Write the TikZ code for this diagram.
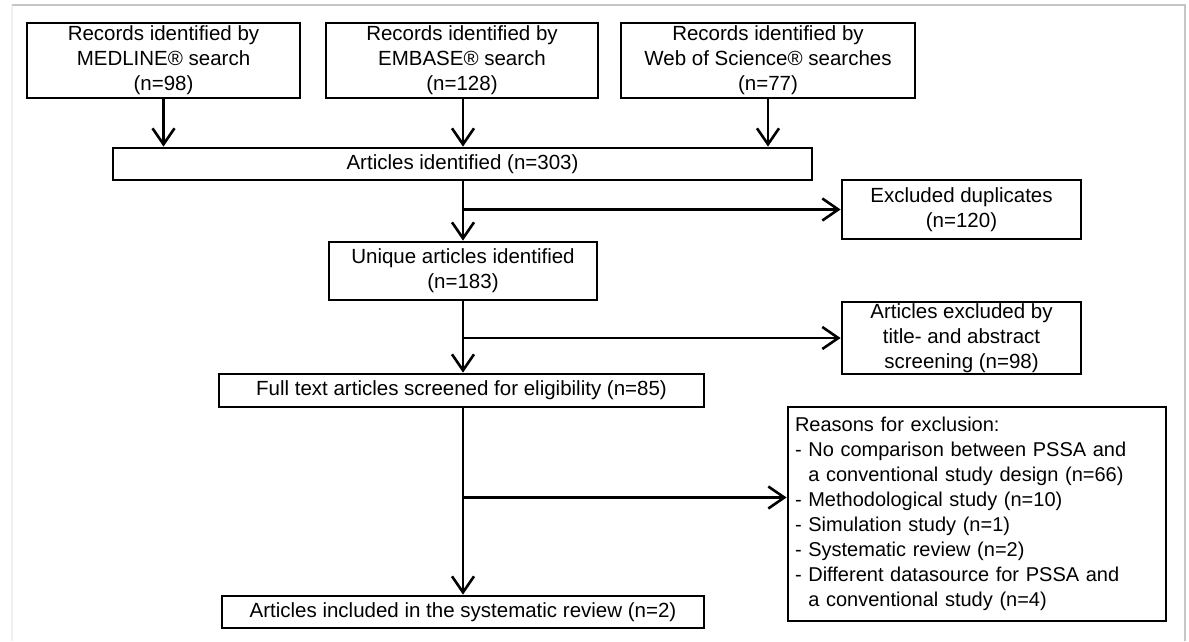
\documentclass[tikz,border=0pt]{standalone}
\usepackage{fontspec}
\setmainfont{Liberation Sans}
\usepackage{tikz}
\usetikzlibrary{arrows.meta, positioning}
\tikzset{
    box/.style = {
        rectangle,
        draw,
        line width=2.8pt,
        align=center,
        inner sep=0pt,
        font=\fontsize{20.5}{25}\selectfont
    },
    arr/.style = {
        draw,
        line width=2.6pt,
        -{Straight Barb[length=16pt, width=22pt, line width=2.6pt]}
    }
}

\begin{document}
\begin{tikzpicture}[
    x=1pt, y=-1pt, % one unit per pixel of the reference
    every node/.style={align=center},
    searchbox/.style={box, minimum height=75pt},
    outbox/.style={box, minimum width=239pt}
]
\useasboundingbox (0,0) rectangle (1189,641);

% Page frame
\draw [gray!12, line width=1.2pt] (12,641) -- (12,5);
\draw [gray!45, line width=1.2pt] (12,5) -- (1185,5) -- (1185,641);

% Searches
\node [searchbox, minimum width=273pt] (med) at (163.5,60.5) {Records identified by\\MEDLINE\textregistered{} search\\(n=98)};
\node [searchbox, minimum width=272pt] (emb) at (462,60.5) {Records identified by\\EMBASE\textregistered{} search\\(n=128)};
\node [searchbox, minimum width=294pt] (wos) at (768,60.5) {Records identified by\\Web of Science\textregistered{} searches\\(n=77)};

% Main column
\node [box, minimum width=699pt, minimum height=32pt] (ident) at (462.5,164) {Articles identified (n=303)};
\node [box, minimum width=268pt, minimum height=58pt] (uniq) at (463,271) {Unique articles identified\\(n=183)};
\node [box, minimum width=485pt, minimum height=33pt] (full) at (461.5,390.5) {Full text articles screened for eligibility (n=85)};
\node [box, minimum width=482pt, minimum height=32pt] (incl) at (463,612) {Articles included in the systematic review (n=2)};

% Exclusions
\node [outbox, minimum height=59pt] (dupl) at (961.5,209.5) {Excluded duplicates\\(n=120)};
\node [outbox, minimum height=72pt] (tiabs) at (961.5,338) {Articles excluded by\\title- and abstract\\screening (n=98)};
\node [box, align=left, minimum width=378pt, minimum height=214pt, text width=364pt,
       inner xsep=7pt, font=\fontsize{20}{25}\selectfont] (reasons) at (977,514)
      {Reasons for exclusion:\\
       - No comparison between PSSA and\\
       \phantom{- }a conventional study design (n=66)\\
       - Methodological study (n=10)\\
       - Simulation study (n=1)\\
       - Systematic review (n=2)\\
       - Different datasource for PSSA and\\
       \phantom{- }a conventional study (n=4)};

% Search arrows
\draw [arr] (med.south) -- (med.south |- ident.north);
\draw [arr] (uniq |- emb.south) -- (uniq |- ident.north);
\draw [arr] (wos.south) -- (wos.south |- ident.north);

% Branch points
\coordinate (b1) at (uniq |- dupl);
\coordinate (b2) at (uniq |- tiabs);
\coordinate (b3) at (463,497.5);

\draw [arr] (uniq |- ident.south) -- (uniq.north);
\draw [arr] (b1) -- (dupl.west);
\draw [arr] (uniq.south) -- (uniq |- full.north);
\draw [arr] (b2) -- (tiabs.west);
\draw [arr] (uniq |- full.south) -- (uniq |- incl.north);
\draw [arr] (b3) -- (b3 -| reasons.west);

\end{tikzpicture}
\end{document}
